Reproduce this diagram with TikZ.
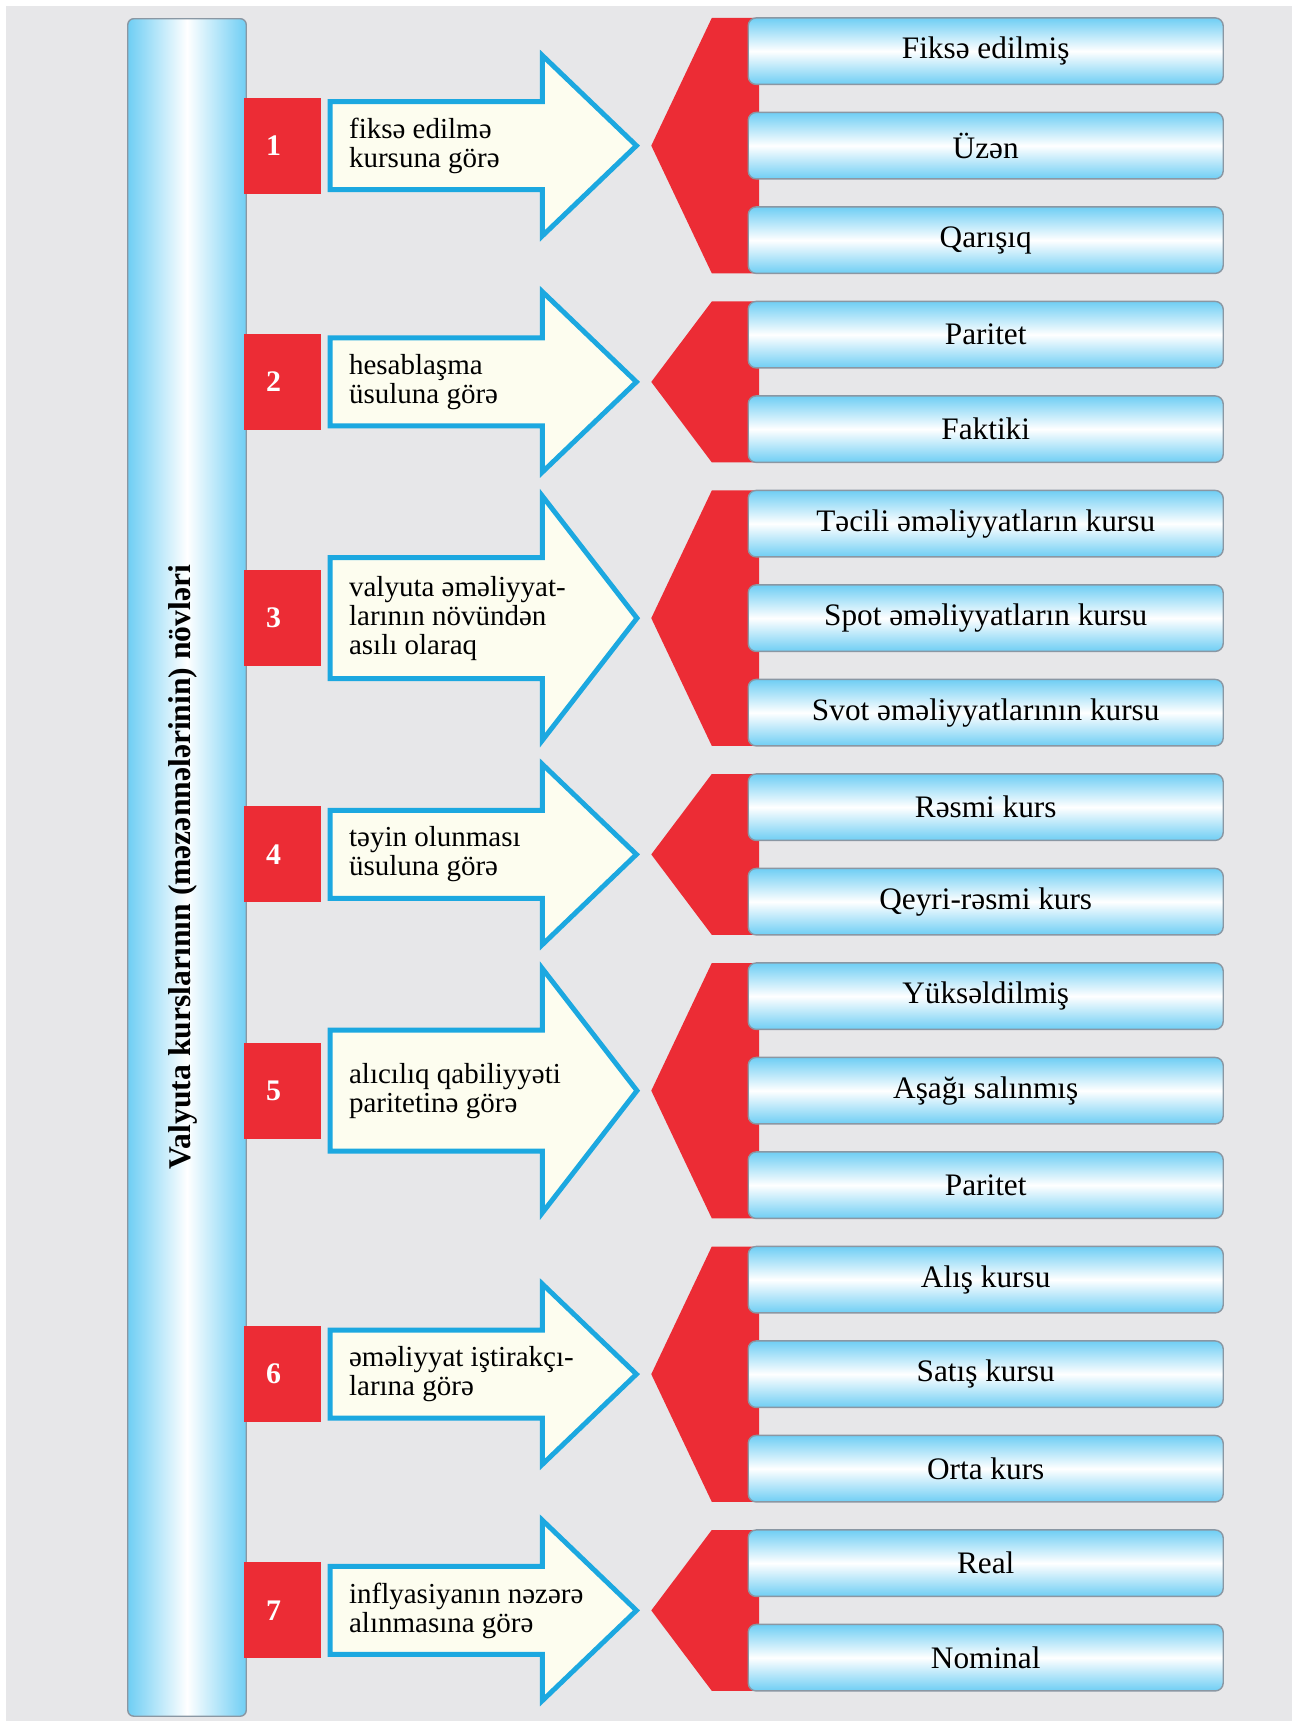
\documentclass[tikz,border=0pt]{standalone}
\usepackage{fontspec}
\setmainfont{Liberation Serif}
\usepackage{xcolor}
\definecolor{panel}{HTML}{E7E7E9}
\definecolor{kred}{HTML}{EC2C35}
\definecolor{kblue}{HTML}{1CA8E0}
\definecolor{cream}{HTML}{FDFDEF}
\definecolor{sky}{HTML}{6FCEF4}
\definecolor{rim}{HTML}{8A97A3}
\tikzset{
  pillar/.style={draw=rim, line width=0.8pt, rounded corners=1.2mm, left color=sky, right color=sky, middle color=white, minimum width=2.37cm, minimum height=33.95cm, inner sep=0pt},
  titletext/.style={rotate=90, font=\bfseries\fontsize{18}{18}\selectfont},
  numbox/.style={fill=kred, text=white, font=\bfseries\fontsize{17}{17}\selectfont, minimum width=1.54cm, minimum height=1.92cm, inner ysep=0pt, inner xsep=0.44cm, text width=0.66cm, align=left},
  kindtext/.style={anchor=west, align=left, inner sep=0pt, font=\fontsize{16.5}{16.5}\selectfont},
  kindarrow/.style={draw=kblue, fill=cream, line width=2.8pt},
  redtip/.style={fill=kred},
  kursbox/.style={draw=rim, line width=0.8pt, rounded corners=1.6mm, top color=sky, bottom color=sky, middle color=white, minimum width=9.5cm, minimum height=1.33cm, inner sep=0pt, font=\fontsize{17.8}{17.8}\selectfont}
}

\begin{document}
\begin{tikzpicture}[x=0.022cm, y=-0.022cm]
  \useasboundingbox (0,0) rectangle (1174,1568);
  \fill[panel] (5,5) rectangle (1174,1564);

  % left pillar with the title
  \node[pillar] (bar) at (170,788.5) {};
  \node[titletext] (title) at (166,788) {Valyuta kurslarının (məzənnələrinin) növləri};

  % red chevrons behind the boxes
  \fill[redtip] (592,132.4) -- (647,16.35) -- (690,16.35) -- (690,248.45) -- (647,248.45) -- cycle;
  \fill[redtip] (592,347.15) -- (647,274.05) -- (690,274.05) -- (690,420.25) -- (647,420.25) -- cycle;
  \fill[redtip] (592,561.9) -- (647,445.85) -- (690,445.85) -- (690,677.95) -- (647,677.95) -- cycle;
  \fill[redtip] (592,776.65) -- (647,703.55) -- (690,703.55) -- (690,849.75) -- (647,849.75) -- cycle;
  \fill[redtip] (592,991.4) -- (647,875.35) -- (690,875.35) -- (690,1107.45) -- (647,1107.45) -- cycle;
  \fill[redtip] (592,1249.1) -- (647,1133.05) -- (690,1133.05) -- (690,1365.15) -- (647,1365.15) -- cycle;
  \fill[redtip] (592,1463.85) -- (647,1390.75) -- (690,1390.75) -- (690,1536.95) -- (647,1536.95) -- cycle;

  % arrows
  \draw[kindarrow] (300,92.4) -- (493,92.4) -- (493,50.4) -- (578.5,132.4) -- (493,214.4) -- (493,172.4) -- (300,172.4) -- cycle;
  \draw[kindarrow] (300,307.15) -- (493,307.15) -- (493,265.15) -- (578.5,347.15) -- (493,429.15) -- (493,387.15) -- (300,387.15) -- cycle;
  \draw[kindarrow] (300,506.9) -- (493,506.9) -- (493,450.9) -- (579,561.9) -- (493,672.9) -- (493,616.9) -- (300,616.9) -- cycle;
  \draw[kindarrow] (300,736.65) -- (493,736.65) -- (493,694.65) -- (578.5,776.65) -- (493,858.65) -- (493,816.65) -- (300,816.65) -- cycle;
  \draw[kindarrow] (300,936.4) -- (493,936.4) -- (493,880.4) -- (579,991.4) -- (493,1102.4) -- (493,1046.4) -- (300,1046.4) -- cycle;
  \draw[kindarrow] (300,1209.1) -- (493,1209.1) -- (493,1167.1) -- (578.5,1249.1) -- (493,1331.1) -- (493,1289.1) -- (300,1289.1) -- cycle;
  \draw[kindarrow] (300,1423.85) -- (493,1423.85) -- (493,1381.85) -- (578.5,1463.85) -- (493,1545.85) -- (493,1503.85) -- (300,1503.85) -- cycle;

  % numbers
  \node[numbox] (n1) at (257,132.4) {1};
  \node[numbox] (n2) at (257,347.15) {2};
  \node[numbox] (n3) at (257,561.9) {3};
  \node[numbox] (n4) at (257,776.65) {4};
  \node[numbox] (n5) at (257,991.4) {5};
  \node[numbox] (n6) at (257,1249.1) {6};
  \node[numbox] (n7) at (257,1463.85) {7};

  % criteria
  \node[kindtext] (t1) at (317,132.4) {fiksə edilmə\\kursuna görə};
  \node[kindtext] (t2) at (317,347.15) {hesablaşma\\üsuluna görə};
  \node[kindtext] (t3) at (317,561.9) {valyuta əməliyyat-\\larının növündən\\asılı olaraq};
  \node[kindtext] (t4) at (317,776.65) {təyin olunması\\üsuluna görə};
  \node[kindtext] (t5) at (317,991.4) {alıcılıq qabiliyyəti\\paritetinə görə};
  \node[kindtext] (t6) at (317,1249.1) {əməliyyat iştirakçı-\\larına görə};
  \node[kindtext] (t7) at (317,1463.85) {inflyasiyanın nəzərə\\alınmasına görə};

  % kinds of rates
  \node[kursbox] (fixed) at (896,46.5) {Fiksə edilmiş};
  \node[kursbox] (floating) at (896,132.4) {Üzən};
  \node[kursbox] (mixed) at (896,218.3) {Qarışıq};
  \node[kursbox] (parity) at (896,304.2) {Paritet};
  \node[kursbox] (actual) at (896,390.1) {Faktiki};
  \node[kursbox] (urgent) at (896,476.0) {Təcili əməliyyatların kursu};
  \node[kursbox] (spot) at (896,561.9) {Spot əməliyyatların kursu};
  \node[kursbox] (swap) at (896,647.8) {Svot əməliyyatlarının kursu};
  \node[kursbox] (official) at (896,733.7) {Rəsmi kurs};
  \node[kursbox] (unofficial) at (896,819.6) {Qeyri-rəsmi kurs};
  \node[kursbox] (raised) at (896,905.5) {Yüksəldilmiş};
  \node[kursbox] (lowered) at (896,991.4) {Aşağı salınmış};
  \node[kursbox] (parity2) at (896,1077.3) {Paritet};
  \node[kursbox] (buying) at (896,1163.2) {Alış kursu};
  \node[kursbox] (selling) at (896,1249.1) {Satış kursu};
  \node[kursbox] (average) at (896,1335.0) {Orta kurs};
  \node[kursbox] (real) at (896,1420.9) {Real};
  \node[kursbox] (nominal) at (896,1506.8) {Nominal};
\end{tikzpicture}
\end{document}
